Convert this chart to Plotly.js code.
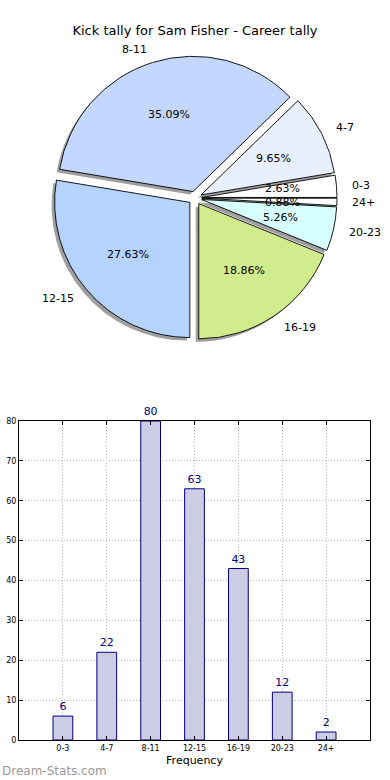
<!DOCTYPE html>
<html>
<head>
<meta charset="utf-8">
<script src="https://cdn.plot.ly/plotly-3.0.1.min.js"></script>
<style>html,body{margin:0;padding:0;background:#fff;}#chart{width:390px;height:780px;}</style>
</head>
<body>
<div id="chart"></div>
<script>
// ---- data ----
var categories = ['0-3', '4-7', '8-11', '12-15', '16-19', '20-23', '24+'];
var counts = [6, 22, 80, 63, 43, 12, 2];
var sliceColors = ['#ffffff', '#e8f0ff', '#c4d8ff', '#b4d4ff', '#d0ec8c', '#d8ffff', '#ffffff'];
var yTicks = [0, 10, 20, 30, 40, 50, 60, 70, 80];
var titleText = 'Kick tally for Sam Fisher - Career tally';
var watermark = 'Dream-Stats.com';

var W = 390, H = 780;
var FONT = 'DejaVu Sans, sans-serif';
var PULL = 0.05;
var pullArr = categories.map(function(){ return PULL; });
var total = counts.reduce(function(a, b){ return a + b; }, 0);
// plotly (counterclockwise) puts the first slice clockwise of `rotation`; shift so it starts at 3 o'clock going up
var pieRotation = 90 - 360 * counts[0] / total;

// pie placement (pixels -> paper fractions)
var pieCx = 195, pieCy = 198, pieHalf = 142;
var pieX = [(pieCx - pieHalf) / W, (pieCx + pieHalf) / W];
var pieY = [1 - (pieCy + pieHalf) / H, 1 - (pieCy - pieHalf) / H];
var shOff = 3;

var shadow = {
  type: 'pie', labels: categories, values: counts, sort: false,
  direction: 'counterclockwise', rotation: pieRotation, pull: pullArr,
  domain: {x: [pieX[0] - shOff / W, pieX[1] - shOff / W], y: [pieY[0] - shOff / H, pieY[1] - shOff / H]},
  marker: {colors: categories.map(function(){ return 'rgba(80,80,80,0.55)'; }), line: {width: 0}},
  textinfo: 'none', hoverinfo: 'skip', showlegend: false
};

var pie = {
  type: 'pie', labels: categories, values: counts, sort: false,
  direction: 'counterclockwise', rotation: pieRotation, pull: pullArr,
  domain: {x: pieX, y: pieY},
  marker: {colors: sliceColors, line: {color: '#000', width: 0.9}},
  textinfo: 'none', hoverinfo: 'label+percent',
  showlegend: false
};

var bars = {
  type: 'bar', x: categories, y: counts, xaxis: 'x', yaxis: 'y',
  width: 0.45,
  marker: {color: '#ccccE5', line: {color: '#000080', width: 1}},
  text: counts.map(String), textposition: 'outside', cliponaxis: false,
  textfont: {family: FONT, size: 11, color: '#000080'},
  hoverinfo: 'x+y', showlegend: false
};

// matplotlib-style pie texts: percent at 0.6 r, label at 1.1 r (from exploded centre)
var r = pieHalf / (1 + PULL);
var annotations = [];
var cum = 0;
counts.forEach(function(v, i){
  var mid = (cum + v / 2) / total * 2 * Math.PI;
  cum += v;
  var c = Math.cos(mid), s = Math.sin(mid);
  var pctD = (0.6 + PULL) * r, labD = (1.1 + PULL) * r;
  // tiny neighbouring slices near 3 o'clock: spread their percent texts a little
  var ys = (i === 0) ? 2.5 : (i === counts.length - 1 ? -2.5 : 0);
  annotations.push({
    text: (v / total * 100).toFixed(2) + '%', xref: 'paper', yref: 'paper',
    x: (pieCx + pctD * c) / W, y: 1 - (pieCy - pctD * s) / H, yshift: ys,
    xanchor: 'center', yanchor: 'middle', showarrow: false,
    font: {family: FONT, size: 11, color: '#000'}
  });
  annotations.push({
    text: categories[i], xref: 'paper', yref: 'paper',
    x: (pieCx + labD * c) / W, y: 1 - (pieCy - labD * s) / H,
    xanchor: c > 0 ? 'left' : 'right', yanchor: 'middle', showarrow: false,
    font: {family: FONT, size: 11, color: '#000'}
  });
});
annotations.push({
  text: watermark, xref: 'paper', yref: 'paper', x: 0, y: 1 - 771 / H,
  xanchor: 'left', yanchor: 'middle', showarrow: false,
  font: {family: FONT, size: 12, color: '#9a9a9a'}
});

var gridStyle = {gridcolor: '#b8b8b8', griddash: '1px,2px', gridwidth: 1, layer: 'above traces'};

var layout = {
  width: W, height: H,
  margin: {l: 0, r: 0, t: 0, b: 0},
  paper_bgcolor: '#fff', plot_bgcolor: '#fff',
  font: {family: FONT, color: '#000'},
  title: {text: titleText, font: {family: FONT, size: 13, color: '#000'}, x: 0.5, xanchor: 'center', y: 1 - 30 / H, yanchor: 'middle'},
  xaxis: Object.assign({
    domain: [19 / W, 370 / W], range: [-1, 7], type: 'category',
    showline: true, linecolor: '#000', linewidth: 1, mirror: 'ticks',
    ticks: 'inside', ticklen: 4, tickcolor: '#000', showgrid: true,
    tickfont: {family: FONT, size: 8, color: '#000'},
    title: {text: 'Frequency', font: {family: FONT, size: 11, color: '#000'}, standoff: 4},
    zeroline: false, fixedrange: true
  }, gridStyle),
  yaxis: Object.assign({
    domain: [1 - 740 / H, 1 - 421 / H], range: [0, 80],
    tickvals: yTicks,
    showline: true, linecolor: '#000', linewidth: 1, mirror: 'ticks',
    ticks: 'inside', ticklen: 4, tickcolor: '#000', showgrid: true,
    tickfont: {family: FONT, size: 8, color: '#000'},
    zeroline: false, fixedrange: true
  }, gridStyle),
  bargap: 0,
  annotations: annotations
};

Plotly.newPlot('chart', [shadow, pie, bars], layout, {displayModeBar: false, staticPlot: true});
</script>
</body>
</html>
